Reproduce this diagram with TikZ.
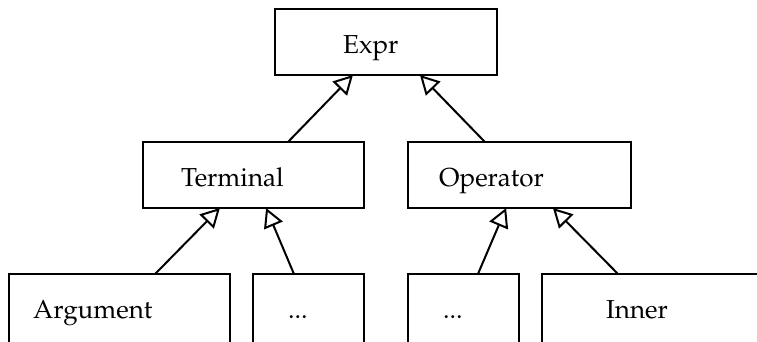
\documentclass[tikz,border=0pt]{standalone}
\usepackage[T1]{fontenc}
\usepackage{mathpazo}
\usetikzlibrary{arrows.meta,calc}
\tikzset{
  box/.style={draw, line width=2.2pt, inner sep=0pt, outer sep=0pt, anchor=north west, fill=white},
  wide/.style={box, minimum width=#1, minimum height=66},
  low/.style={box, minimum width=#1, minimum height=80},
  txt/.style 2 args={label={[anchor=base west, inner sep=0pt, xshift=#1, yshift=-44pt]north west:#2}},
  inherit/.style={line width=2pt, -{Triangle[open, length=19pt, width=20pt, line width=2pt]}}
}
\begin{document}
\begin{tikzpicture}[x=1pt, y=-1pt, font=\fontsize{26}{30}\selectfont]
\clip (0,0) rectangle (757,341);
\node[wide=222, txt={68pt}{Expr}] (expr) at (275,9) {};
\node[wide=221, txt={38pt}{Terminal}] (term) at (143,142) {};
\node[wide=223, txt={31pt}{Operator}] (oper) at (408,142) {};
\node[low=221, txt={24pt}{Argument}] (arg) at (9,274) {};
\node[low=111, txt={35pt}{...}] (dotsa) at (253,274) {};
\node[low=111, txt={35pt}{...}] (dotsb) at (408,274) {};
\node[low=221, txt={64pt}{Inner}] (inner) at (542,274) {};
\draw[inherit] ($(term.north west)!0.656!(term.north east)$) -- ($(expr.south west)!0.351!(expr.south east)$);
\draw[inherit] ($(oper.north west)!0.345!(oper.north east)$) -- ($(expr.south west)!0.653!(expr.south east)$);
\draw[inherit] ($(arg.north west)!0.661!(arg.north east)$) -- ($(term.south west)!0.348!(term.south east)$);
\draw[inherit] ($(dotsa.north west)!0.369!(dotsa.north east)$) -- ($(term.south west)!0.557!(term.south east)$);
\draw[inherit] ($(dotsb.north west)!0.63!(dotsb.north east)$) -- ($(oper.south west)!0.44!(oper.south east)$);
\draw[inherit] ($(inner.north west)!0.344!(inner.north east)$) -- ($(oper.south west)!0.65!(oper.south east)$);
\end{tikzpicture}
\end{document}
